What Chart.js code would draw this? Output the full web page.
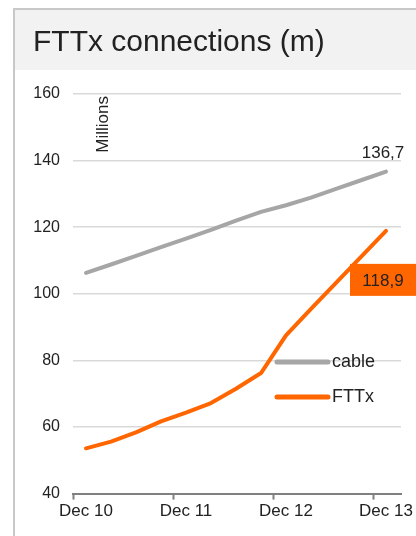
<!DOCTYPE html>
<html>
<head>
<meta charset="utf-8">
<script src="https://cdn.jsdelivr.net/npm/chart.js@4.4.1/dist/chart.umd.min.js"></script>
<style>
    html, body { margin: 0; padding: 0; background: #fff; }
    #wrap { position: relative; width: 416px; height: 536px; }
</style>
</head>
<body>
<div id="wrap"><canvas id="grafico" width="416" height="536"></canvas></div>
<script>
// pontos trimestrais, Dec 10 .. Dec 13 (milhoes)
const trimestres = ['Dec 10', 'Mar 11', 'Jun 11', 'Sep 11', 'Dec 11', 'Mar 12', 'Jun 12', 'Sep 12', 'Dec 12', 'Mar 13', 'Jun 13', 'Sep 13', 'Dec 13'];
const cabo = [106.3, 108.8, 111.4, 114.0, 116.6, 119.2, 122.0, 124.6, 126.6, 128.9, 131.5, 134.1, 136.7];
const fttx = [53.6, 55.6, 58.4, 61.7, 64.3, 67.2, 71.5, 76.2, 87.5, 95.5, 103.3, 111.1, 118.9];
const nomesSeries = ['cable', 'FTTx'];
const rotulosX = ['Dec 10', 'Dec 11', 'Dec 12', 'Dec 13'];
const posRotulosX = [0, 4, 8, 12];

const corCabo = '#a6a6a6';
const corFttx = '#ff6600';
const fonte = '"Liberation Sans", Arial, sans-serif';

Chart.defaults.font.family = fonte;

const pontos = (valores) => valores.map((v, i) => ({ x: i, y: v }));
const formatar = (v) => v.toFixed(1).replace('.', ',');

// fundo, moldura e faixa do titulo
const moldura = {
    id: 'moldura',
    beforeDraw(chart) {
        const ctx = chart.ctx;
        ctx.save();
        ctx.fillStyle = '#fff';
        ctx.fillRect(0, 0, chart.width, chart.height);
        ctx.fillStyle = '#f2f2f2';
        ctx.fillRect(15, 10, chart.width - 15, 60);
        ctx.strokeStyle = '#c8c8c8';
        ctx.lineWidth = 2;
        ctx.beginPath();
        ctx.moveTo(13, 9);
        ctx.lineTo(chart.width, 9);
        ctx.moveTo(14, 8);
        ctx.lineTo(14, chart.height);
        ctx.stroke();
        ctx.restore();
    }
};

const extras = {
    id: 'extras',
    afterDatasetsDraw(chart) {
        const ctx = chart.ctx;
        const area = chart.chartArea;
        ctx.save();

        // "Millions" na vertical
        ctx.save();
        ctx.translate(area.left + 35, area.top + 2);
        ctx.rotate(-Math.PI / 2);
        ctx.font = '17px ' + fonte;
        ctx.fillStyle = '#222';
        ctx.textAlign = 'right';
        ctx.textBaseline = 'alphabetic';
        ctx.fillText('Millions', 0, 0);
        ctx.restore();

        // rotulos dos ultimos pontos
        const ultCabo = chart.getDatasetMeta(0).data[cabo.length - 1];
        const ultFttx = chart.getDatasetMeta(1).data[fttx.length - 1];

        ctx.font = '17px ' + fonte;
        ctx.textAlign = 'center';
        ctx.textBaseline = 'alphabetic';
        ctx.fillStyle = '#222';
        ctx.fillText(formatar(cabo[cabo.length - 1]), ultCabo.x - 3, ultCabo.y - 14);

        ctx.fillStyle = corFttx;
        ctx.fillRect(ultFttx.x - 36, ultFttx.y + 33, chart.width - (ultFttx.x - 36), 32);
        ctx.fillStyle = '#222';
        ctx.textBaseline = 'middle';
        ctx.fillText(formatar(fttx[fttx.length - 1]), ultFttx.x - 3, ultFttx.y + 50);

        // legenda dentro da area
        const lx = area.left + 204;
        const ly = [area.top + 268, area.top + 303];
        const cores = [corCabo, corFttx];
        ctx.font = '18px ' + fonte;
        ctx.textAlign = 'left';
        ctx.lineCap = 'round';
        nomesSeries.forEach((nome, i) => {
            ctx.strokeStyle = cores[i];
            ctx.lineWidth = 5;
            ctx.beginPath();
            ctx.moveTo(lx, ly[i]);
            ctx.lineTo(lx + 51, ly[i]);
            ctx.stroke();
            ctx.fillStyle = '#222';
            ctx.fillText(nome, lx + 55, ly[i]);
        });
        ctx.restore();
    }
};

const ctx = document.getElementById('grafico').getContext('2d');

new Chart(ctx, {
    type: 'line',
    data: {
        datasets: [
            { label: nomesSeries[0], data: pontos(cabo), borderColor: corCabo, borderWidth: 4 },
            { label: nomesSeries[1], data: pontos(fttx), borderColor: corFttx, borderWidth: 4 }
        ]
    },
    options: {
        responsive: false,
        animation: false,
        events: [],
        elements: {
            point: { radius: 0 },
            line: { tension: 0, borderCapStyle: 'round', borderJoinStyle: 'round' }
        },
        layout: { padding: { left: 33, right: 15, top: 0, bottom: 12 } },
        plugins: {
            legend: { display: false },
            tooltip: { enabled: false },
            title: {
                display: true,
                text: 'FTTx connections (m)',
                align: 'start',
                color: '#222',
                font: { size: 30, weight: 'normal' },
                padding: { top: 25, bottom: 33 }
            }
        },
        scales: {
            x: {
                type: 'linear',
                min: -0.52,
                max: 12.6,
                afterBuildTicks: (scale) => {
                    scale.ticks = posRotulosX.map(i => ({ value: i - 0.5 }));
                },
                afterFit: (scale) => {
                    scale.paddingLeft = 0;
                    scale.paddingRight = 0;
                },
                ticks: {
                    callback: (v) => rotulosX[posRotulosX.indexOf(Math.round(v + 0.5))],
                    labelOffset: 12.5,
                    maxRotation: 0,
                    autoSkip: false,
                    color: '#222',
                    font: { size: 17 },
                    padding: 2
                },
                grid: { drawOnChartArea: false, drawTicks: true, tickLength: 6, tickColor: '#808080', tickWidth: 2 },
                border: { color: '#808080', width: 2 }
            },
            y: {
                min: 40,
                max: 160,
                afterFit: (scale) => { scale.width = 40; },
                ticks: { stepSize: 20, color: '#222', font: { size: 16 }, padding: 13 },
                grid: { color: '#d9d9d9', lineWidth: 1.5, drawTicks: false },
                border: { display: false }
            }
        }
    },
    plugins: [moldura, extras]
});
</script>
</body>
</html>
